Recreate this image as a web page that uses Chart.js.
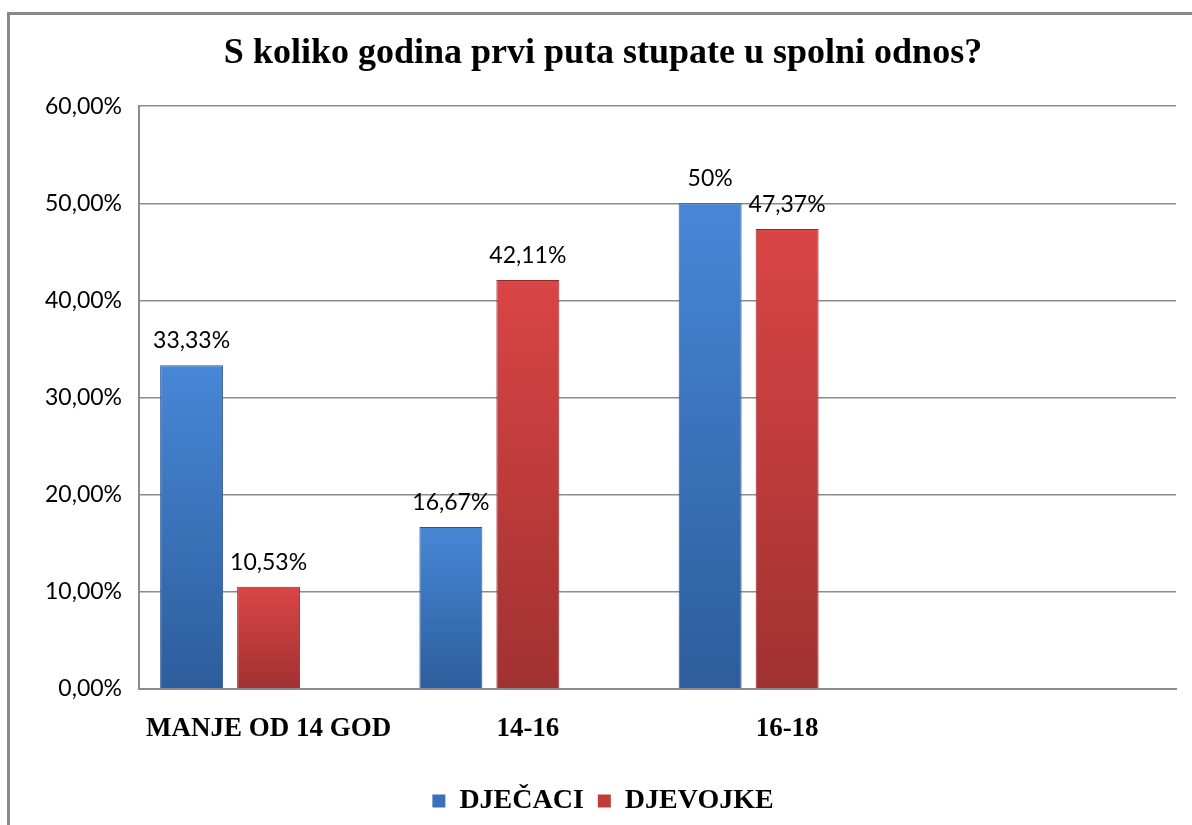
<!DOCTYPE html>
<html>
<head>
<meta charset="utf-8">
<script src="https://cdn.jsdelivr.net/npm/chart.js@4"></script>
<style>
html, body { margin: 0; padding: 0; background: #fff; overflow: hidden; }
#frame { position: absolute; left: 7px; top: 12px; width: 1300px; height: 900px; border: 3px solid #888; }
#wrap { position: absolute; left: 0; top: 0; width: 1192px; height: 825px; }
</style>
</head>
<body>
<div id="frame"></div>
<div id="wrap"><canvas id="chart"></canvas></div>
<script>
const categories = ['MANJE OD 14 GOD', '14-16', '16-18', ''];
const boys = [33.33, 16.67, 50, null];
const girls = [10.53, 42.11, 47.37, null];
// third (empty) series slot from the original sheet, kept so the bars sit where Excel put them
const emptySeries = [null, null, null, null];
const seriesNames = ['DJEČACI', 'DJEVOJKE'];

const yMin = 0, yMax = 60, yStep = 10;

function fmtTick(v) {
    return v.toFixed(2).replace('.', ',') + '%';
}
function fmtValue(v) {
    if (Number.isInteger(v)) return v + '%';
    return v.toFixed(2).replace('.', ',') + '%';
}

// vertical gradient per bar, light on top, dark at the base
function barFill(top, bottom) {
    return function(ctx) {
        const chart = ctx.chart;
        if (!chart.chartArea || ctx.raw == null) return top;
        const y = chart.scales.y;
        const g = chart.ctx.createLinearGradient(0, y.getPixelForValue(ctx.raw), 0, y.getPixelForValue(0));
        g.addColorStop(0, top);
        g.addColorStop(1, bottom);
        return g;
    };
}

const legendColors = ['#3b70b8', '#c23b3b'];

const valueLabels = {
    id: 'valueLabels',
    afterDatasetsDraw(chart) {
        const ctx = chart.ctx;
        ctx.save();
        ctx.font = '23px Lato';
        ctx.fillStyle = '#000';
        ctx.textAlign = 'center';
        ctx.textBaseline = 'alphabetic';
        [0, 1].forEach(di => {
            const meta = chart.getDatasetMeta(di);
            meta.data.forEach((bar, i) => {
                const v = chart.data.datasets[di].data[i];
                if (v == null) return;
                ctx.fillText(fmtValue(v), bar.x, bar.y - 17);
            });
        });
        ctx.restore();
    }
};

const ctx = document.getElementById('chart').getContext('2d');
new Chart(ctx, {
    type: 'bar',
    data: {
        labels: categories,
        datasets: [
            {
                label: seriesNames[0],
                data: boys,
                backgroundColor: barFill('#4787d6', '#2d5d9c'),
                borderColor: '#2a5690',
                borderWidth: 1,
                barPercentage: 0.818,
                categoryPercentage: 0.891
            },
            {
                label: seriesNames[1],
                data: girls,
                backgroundColor: barFill('#da4545', '#a13131'),
                borderColor: '#8f2a2a',
                borderWidth: 1,
                barPercentage: 0.818,
                categoryPercentage: 0.891
            },
            {
                label: '',
                data: emptySeries,
                backgroundColor: '#888',
                barPercentage: 0.818,
                categoryPercentage: 0.891
            }
        ]
    },
    options: {
        responsive: true,
        maintainAspectRatio: false,
        animation: false,
        layout: { padding: { left: 30, right: 16, top: 0, bottom: 0 } },
        plugins: {
            title: {
                display: true,
                text: 'S koliko godina prvi puta stupate u spolni odnos?',
                color: '#000',
                font: { family: 'Liberation Serif', size: 36, weight: 'bold' },
                padding: { top: 32, bottom: 31 }
            },
            legend: {
                position: 'bottom',
                labels: {
                    color: '#000',
                    font: { family: 'Liberation Serif', size: 28, weight: 'bold' },
                    boxWidth: 13,
                    boxHeight: 13,
                    padding: 14,
                    generateLabels(chart) {
                        const items = Chart.defaults.plugins.legend.labels.generateLabels(chart);
                        return items.filter(it => it.datasetIndex < 2).map(it => {
                            it.fillStyle = legendColors[it.datasetIndex];
                            it.strokeStyle = legendColors[it.datasetIndex];
                            it.lineWidth = 0;
                            return it;
                        });
                    }
                }
            },
            tooltip: { enabled: false }
        },
        scales: {
            x: {
                grid: { display: false },
                border: { display: true, color: '#8c8c8c', width: 2 },
                ticks: {
                    color: '#000',
                    font: { family: 'Liberation Serif', size: 27, weight: 'bold' },
                    padding: 16,
                    maxRotation: 0,
                    autoSkip: false
                },
                afterFit(scale) { scale.height = 84; }
            },
            y: {
                min: yMin,
                max: yMax,
                grid: { color: '#8c8c8c', lineWidth: 1.5, drawTicks: false },
                border: { display: true, color: '#8c8c8c', width: 2 },
                ticks: {
                    stepSize: yStep,
                    color: '#000',
                    font: { family: 'Lato', size: 23 },
                    padding: 17,
                    callback: v => fmtTick(v)
                },
                afterFit(scale) { scale.width = 109; }
            }
        }
    },
    plugins: [valueLabels]
});
</script>
</body>
</html>
